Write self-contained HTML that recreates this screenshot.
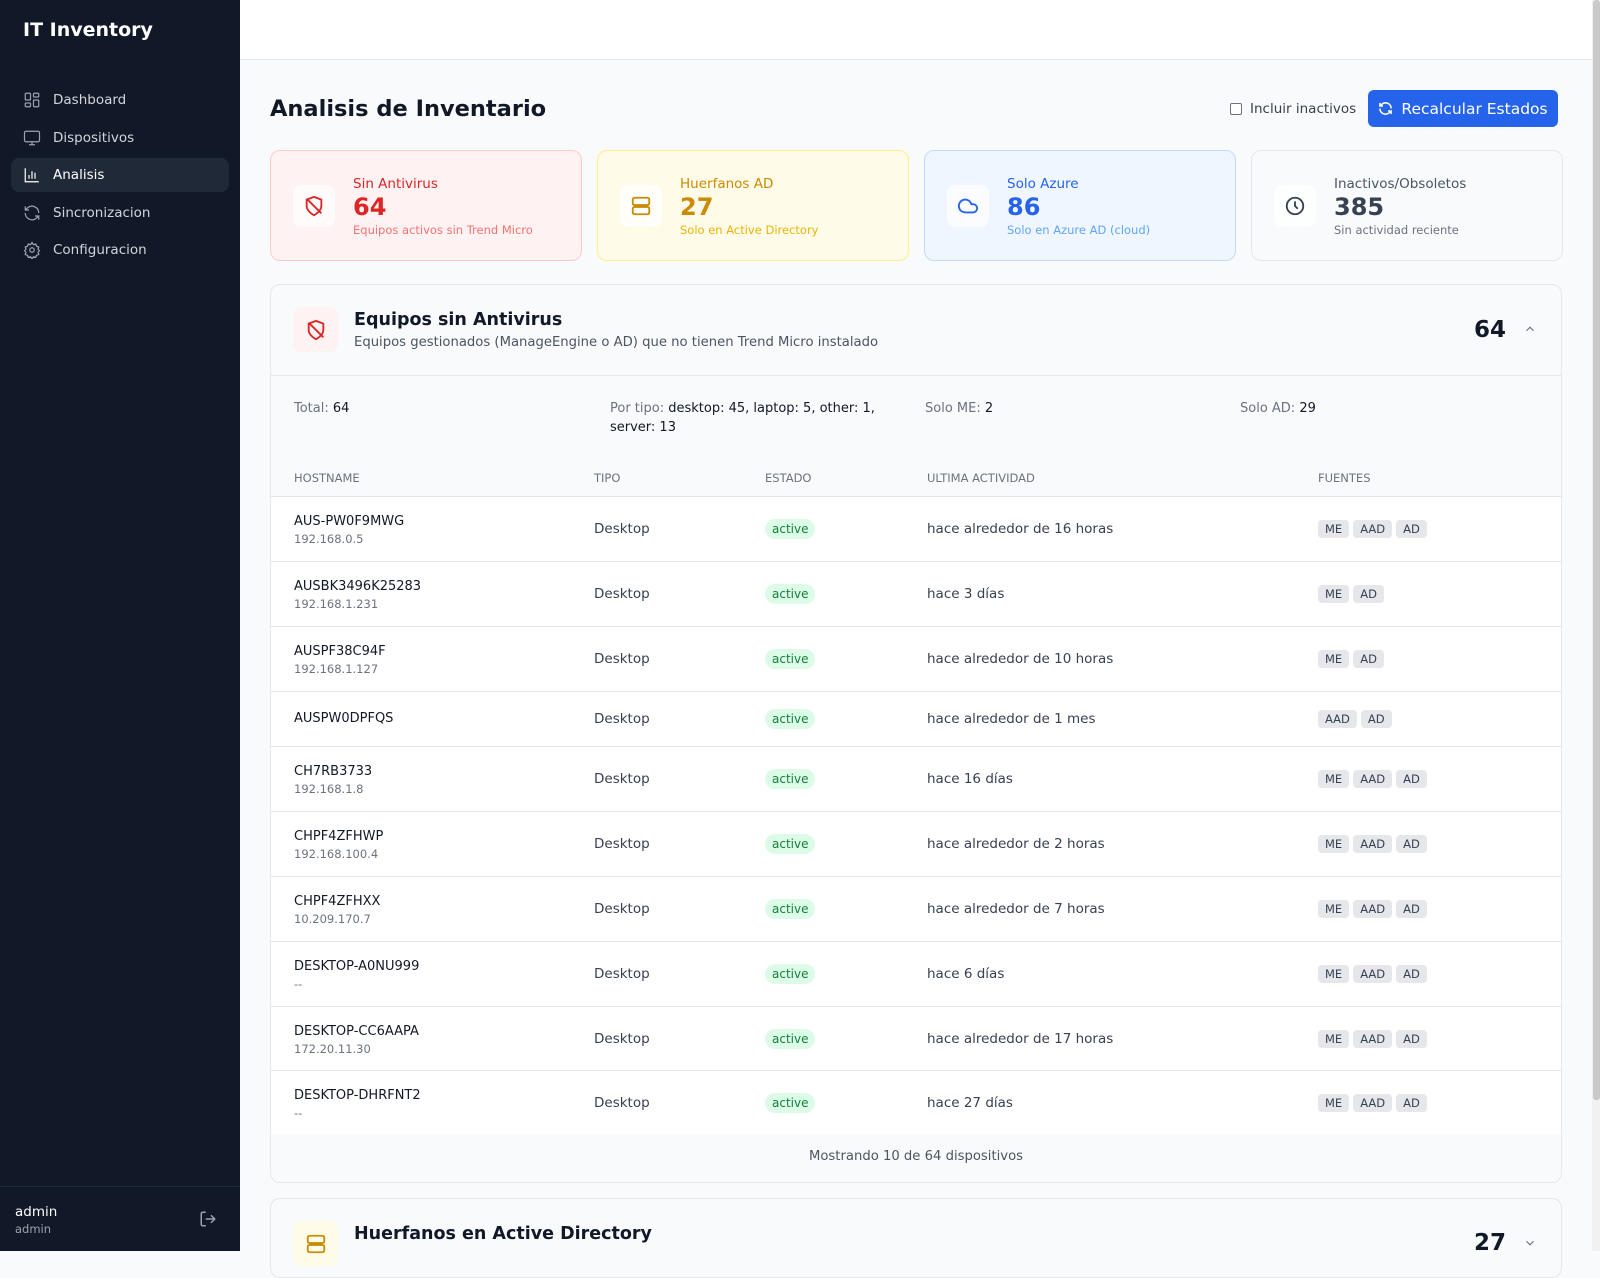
<!DOCTYPE html>
<html><head><meta charset="utf-8">
<style>
*{box-sizing:border-box;margin:0;padding:0}
body{width:1600px;height:1251px;overflow:hidden;font-family:"DejaVu Sans","Liberation Sans",sans-serif;background:#f9fafb;position:relative;color:#111827}
.abs{position:absolute}
.sb{left:0;top:0;width:240px;height:1251px;background:#111827;color:#d1d5db}
.logo{left:23px;top:19px;font-size:19px;font-weight:bold;color:#fff}
.nav{left:11px;width:218px;height:34px;border-radius:8px;font-size:13.5px;display:flex;align-items:center;padding-left:12px;color:#d1d5db}
.nav svg{width:18px;height:18px;margin-right:12px;stroke:#9ca3af;fill:none;stroke-width:1.6}
.nav.act{background:#1f2937;color:#fff}
.nav.act svg{stroke:#fff}
.hdr{left:240px;top:0;width:1352px;height:60px;background:#fff;border-bottom:1px solid #e5e7eb}
.scr{left:1592px;top:0;width:8px;height:1251px;background:#f1f1f1}
.thumb{left:1593px;top:0;width:7px;height:1100px;background:#c9c9c9;border-radius:3px}
.card{top:150px;width:312px;height:111px;border-radius:10px;border:1px solid #e5e7eb;background:#fff}
.ib{position:absolute;left:22px;top:34px;width:42px;height:42px;border-radius:8px;background:rgba(255,255,255,.7);display:flex;align-items:center;justify-content:center}
.ib svg{width:22px;height:22px;fill:none;stroke-width:2}
.ct{position:absolute;left:82px;top:25px;font-size:13.5px}
.cn{position:absolute;left:82px;top:42px;font-size:24px;font-weight:bold}
.cs{position:absolute;left:82px;top:72px;font-size:11.5px}
.sec{left:270px;top:284px;width:1292px;height:899px;border:1px solid #e5e7eb;border-radius:10px;background:#f9fafb;overflow:hidden}
.row{position:absolute;left:0;width:1290px;background:#fff;border-top:1px solid #e5e7eb;font-size:13.5px;color:#374151}
.row .h{position:absolute;left:23px;font-size:13px;color:#111827}
.row .ip{position:absolute;left:23px;font-size:11.5px;color:#6b7280}
.row .t{position:absolute;left:323px}
.row .bd{position:absolute;left:494px;background:#dcfce7;color:#15803d;font-size:12px;border-radius:10px;padding:2px 7px;line-height:16px}
.row .u{position:absolute;left:656px}
.row .f{position:absolute;left:1047px;display:flex;gap:4px}
.tg{background:#e5e7eb;color:#374151;font-size:11.5px;border-radius:4px;height:18px;line-height:18px;padding:0 7px}
.th{position:absolute;top:186px;font-size:11.5px;color:#6b7280}
.st{position:absolute;top:114px;font-size:13px;color:#6b7280;line-height:19px}
.st b{font-weight:normal;color:#111827}
</style></head><body>
<div class="abs sb">
<div class="abs logo">IT Inventory</div>
<div class="abs nav" style="top:83px"><svg viewBox="0 0 24 24"><rect x="3" y="3" width="7" height="9" rx="1"/><rect x="14" y="3" width="7" height="5" rx="1"/><rect x="14" y="12" width="7" height="9" rx="1"/><rect x="3" y="16" width="7" height="5" rx="1"/></svg>Dashboard</div>
<div class="abs nav" style="top:121px"><svg viewBox="0 0 24 24"><rect x="2" y="3" width="20" height="14" rx="2"/><path d="M8 21h8M12 17v4"/></svg>Dispositivos</div>
<div class="abs nav act" style="top:158px"><svg viewBox="0 0 24 24"><path d="M3 3v18h18M8 17v-5M12 17V7M16 17v-8"/></svg>Analisis</div>
<div class="abs nav" style="top:196px"><svg viewBox="0 0 24 24"><path d="M21 12a9 9 0 0 0-15-6.7L3 8M3 3v5h5M3 12a9 9 0 0 0 15 6.7L21 16M21 21v-5h-5"/></svg>Sincronizacion</div>
<div class="abs nav" style="top:233px"><svg viewBox="0 0 24 24"><circle cx="12" cy="12" r="3"/><path d="M12 2l2 3 3-1 1 3 3 1-1 3 2 2-2 2 1 3-3 1-1 3-3-1-2 3-2-3-3 1-1-3-3-1 1-3-2-2 2-2-1-3 3-1 1-3 3 1z"/></svg>Configuracion</div>
<div class="abs" style="left:0;top:1186px;width:240px;border-top:1px solid #1f2937"></div>
<div class="abs" style="left:15px;top:1204px;font-size:13.5px;color:#fff">admin</div>
<div class="abs" style="left:15px;top:1222px;font-size:11.5px;color:#9ca3af">admin</div>
<svg class="abs" style="left:199px;top:1210px" width="18" height="18" viewBox="0 0 24 24" fill="none" stroke="#9ca3af" stroke-width="2"><path d="M9 21H5a2 2 0 0 1-2-2V5a2 2 0 0 1 2-2h4M16 17l5-5-5-5M21 12H9"/></svg>
</div>
<div class="abs hdr"></div>
<div class="abs scr"></div><div class="abs thumb"></div>

<div class="abs" style="left:270px;top:96px;font-size:22.5px;font-weight:bold">Analisis de Inventario</div>
<div class="abs" style="left:1230px;top:103px;width:12px;height:12px;border:1px solid #6b7280;border-radius:2px;background:#fff"></div>
<div class="abs" style="left:1250px;top:101px;font-size:13.5px;color:#374151">Incluir inactivos</div>
<div class="abs" style="left:1368px;top:90px;width:190px;height:37px;background:#2563eb;border-radius:6px;color:#fff;font-size:15.5px;display:flex;align-items:center;justify-content:center;gap:8px"><svg width="15" height="15" viewBox="0 0 24 24" fill="none" stroke="#fff" stroke-width="2.4"><path d="M21 12a9 9 0 0 0-15-6.7L3 8M3 3v5h5M3 12a9 9 0 0 0 15 6.7L21 16M21 21v-5h-5"/></svg>Recalcular Estados</div>

<div class="abs card" style="left:270px;background:#fef2f2;border-color:#fecaca">
<div class="ib"><svg viewBox="0 0 24 24" stroke="#dc2626"><path d="M12 22s8-4 8-10V5l-8-3-8 3v7c0 6 8 10 8 10z"/><path d="M4 4l16 16"/></svg></div>
<div class="ct" style="color:#dc2626">Sin Antivirus</div><div class="cn" style="color:#dc2626">64</div><div class="cs" style="color:#f87171">Equipos activos sin Trend Micro</div></div>
<div class="abs card" style="left:597px;background:#fefce8;border-color:#fef08a">
<div class="ib"><svg viewBox="0 0 24 24" stroke="#ca8a04"><rect x="3" y="3" width="18" height="8" rx="2"/><rect x="3" y="13" width="18" height="8" rx="2"/><path d="M7 7h.01M7 17h.01"/></svg></div>
<div class="ct" style="color:#ca8a04">Huerfanos AD</div><div class="cn" style="color:#ca8a04">27</div><div class="cs" style="color:#eab308">Solo en Active Directory</div></div>
<div class="abs card" style="left:924px;background:#eff6ff;border-color:#bfdbfe">
<div class="ib"><svg viewBox="0 0 24 24" stroke="#2563eb"><path d="M17.5 19H9a7 7 0 1 1 6.7-9h1.8a4.5 4.5 0 1 1 0 9z"/></svg></div>
<div class="ct" style="color:#2563eb">Solo Azure</div><div class="cn" style="color:#2563eb">86</div><div class="cs" style="color:#60a5fa">Solo en Azure AD (cloud)</div></div>
<div class="abs card" style="left:1251px;background:#f9fafb">
<div class="ib"><svg viewBox="0 0 24 24" stroke="#374151"><circle cx="12" cy="12" r="9"/><path d="M12 7v5l3 3"/></svg></div>
<div class="ct" style="color:#4b5563">Inactivos/Obsoletos</div><div class="cn" style="color:#374151">385</div><div class="cs" style="color:#6b7280">Sin actividad reciente</div></div>

<div class="abs sec">
<div class="abs" style="left:22px;top:22px;width:45px;height:45px;border-radius:8px;background:#fef2f2;display:flex;align-items:center;justify-content:center"><svg width="22" height="22" viewBox="0 0 24 24" fill="none" stroke="#dc2626" stroke-width="2"><path d="M12 22s8-4 8-10V5l-8-3-8 3v7c0 6 8 10 8 10z"/><path d="M4 4l16 16"/></svg></div>
<div class="abs" style="left:83px;top:25px;font-size:17.5px;font-weight:bold">Equipos sin Antivirus</div>
<div class="abs" style="left:83px;top:50px;font-size:13.2px;color:#4b5563">Equipos gestionados (ManageEngine o AD) que no tienen Trend Micro instalado</div>
<div class="abs" style="left:1203px;top:32px;font-size:23px;font-weight:bold">64</div>
<svg class="abs" style="left:1252px;top:37px" width="14" height="14" viewBox="0 0 24 24" fill="none" stroke="#6b7280" stroke-width="2"><path d="M6 15l6-6 6 6"/></svg>
<div class="abs" style="left:0;top:90px;width:1292px;border-top:1px solid #e5e7eb"></div>
<div class="st" style="left:23px">Total: <b>64</b></div>
<div class="st" style="left:339px;width:280px">Por tipo: <b>desktop: 45, laptop: 5, other: 1, server: 13</b></div>
<div class="st" style="left:654px">Solo ME: <b>2</b></div>
<div class="st" style="left:969px">Solo AD: <b>29</b></div>
<div class="th" style="left:23px">HOSTNAME</div><div class="th" style="left:323px">TIPO</div><div class="th" style="left:494px">ESTADO</div><div class="th" style="left:656px">ULTIMA ACTIVIDAD</div><div class="th" style="left:1047px">FUENTES</div>

<div class="row" style="top:211px;height:65px"><div class="h" style="top:17px">AUS-PW0F9MWG</div><div class="ip" style="top:35px">192.168.0.5</div><div class="t" style="top:24px">Desktop</div><div class="bd" style="top:22px">active</div><div class="u" style="top:24px">hace alrededor de 16 horas</div><div class="f" style="top:23px"><span class="tg">ME</span><span class="tg">AAD</span><span class="tg">AD</span></div></div>
<div class="row" style="top:276px;height:65px"><div class="h" style="top:17px">AUSBK3496K25283</div><div class="ip" style="top:35px">192.168.1.231</div><div class="t" style="top:24px">Desktop</div><div class="bd" style="top:22px">active</div><div class="u" style="top:24px">hace 3 días</div><div class="f" style="top:23px"><span class="tg">ME</span><span class="tg">AD</span></div></div>
<div class="row" style="top:341px;height:65px"><div class="h" style="top:17px">AUSPF38C94F</div><div class="ip" style="top:35px">192.168.1.127</div><div class="t" style="top:24px">Desktop</div><div class="bd" style="top:22px">active</div><div class="u" style="top:24px">hace alrededor de 10 horas</div><div class="f" style="top:23px"><span class="tg">ME</span><span class="tg">AD</span></div></div>
<div class="row" style="top:406px;height:55px"><div class="h" style="top:19px">AUSPW0DPFQS</div><div class="t" style="top:19px">Desktop</div><div class="bd" style="top:17px">active</div><div class="u" style="top:19px">hace alrededor de 1 mes</div><div class="f" style="top:18px"><span class="tg">AAD</span><span class="tg">AD</span></div></div>
<div class="row" style="top:461px;height:65px"><div class="h" style="top:17px">CH7RB3733</div><div class="ip" style="top:35px">192.168.1.8</div><div class="t" style="top:24px">Desktop</div><div class="bd" style="top:22px">active</div><div class="u" style="top:24px">hace 16 días</div><div class="f" style="top:23px"><span class="tg">ME</span><span class="tg">AAD</span><span class="tg">AD</span></div></div>
<div class="row" style="top:526px;height:65px"><div class="h" style="top:17px">CHPF4ZFHWP</div><div class="ip" style="top:35px">192.168.100.4</div><div class="t" style="top:24px">Desktop</div><div class="bd" style="top:22px">active</div><div class="u" style="top:24px">hace alrededor de 2 horas</div><div class="f" style="top:23px"><span class="tg">ME</span><span class="tg">AAD</span><span class="tg">AD</span></div></div>
<div class="row" style="top:591px;height:65px"><div class="h" style="top:17px">CHPF4ZFHXX</div><div class="ip" style="top:35px">10.209.170.7</div><div class="t" style="top:24px">Desktop</div><div class="bd" style="top:22px">active</div><div class="u" style="top:24px">hace alrededor de 7 horas</div><div class="f" style="top:23px"><span class="tg">ME</span><span class="tg">AAD</span><span class="tg">AD</span></div></div>
<div class="row" style="top:656px;height:65px"><div class="h" style="top:17px">DESKTOP-A0NU999</div><div class="ip" style="top:35px">--</div><div class="t" style="top:24px">Desktop</div><div class="bd" style="top:22px">active</div><div class="u" style="top:24px">hace 6 días</div><div class="f" style="top:23px"><span class="tg">ME</span><span class="tg">AAD</span><span class="tg">AD</span></div></div>
<div class="row" style="top:721px;height:64px"><div class="h" style="top:17px">DESKTOP-CC6AAPA</div><div class="ip" style="top:35px">172.20.11.30</div><div class="t" style="top:24px">Desktop</div><div class="bd" style="top:22px">active</div><div class="u" style="top:24px">hace alrededor de 17 horas</div><div class="f" style="top:23px"><span class="tg">ME</span><span class="tg">AAD</span><span class="tg">AD</span></div></div>
<div class="row" style="top:785px;height:64px"><div class="h" style="top:17px">DESKTOP-DHRFNT2</div><div class="ip" style="top:35px">--</div><div class="t" style="top:24px">Desktop</div><div class="bd" style="top:22px">active</div><div class="u" style="top:24px">hace 27 días</div><div class="f" style="top:23px"><span class="tg">ME</span><span class="tg">AAD</span><span class="tg">AD</span></div></div>
<div class="abs" style="left:0;top:864px;width:1290px;text-align:center;font-size:13.2px;color:#4b5563">Mostrando 10 de 64 dispositivos</div>
</div>

<div class="abs" style="left:270px;top:1198px;width:1292px;height:80px;border:1px solid #e5e7eb;border-radius:10px;background:#f9fafb">
<div class="abs" style="left:22px;top:22px;width:45px;height:45px;border-radius:8px;background:#fefce8;display:flex;align-items:center;justify-content:center"><svg width="22" height="22" viewBox="0 0 24 24" fill="none" stroke="#ca8a04" stroke-width="2"><rect x="3" y="3" width="18" height="8" rx="2"/><rect x="3" y="13" width="18" height="8" rx="2"/></svg></div>
<div class="abs" style="left:83px;top:25px;font-size:17.5px;font-weight:bold">Huerfanos en Active Directory</div>
<div class="abs" style="left:1203px;top:31px;font-size:23px;font-weight:bold">27</div>
<svg class="abs" style="left:1252px;top:37px" width="14" height="14" viewBox="0 0 24 24" fill="none" stroke="#6b7280" stroke-width="2"><path d="M6 9l6 6 6-6"/></svg>
</div>
</body></html>
